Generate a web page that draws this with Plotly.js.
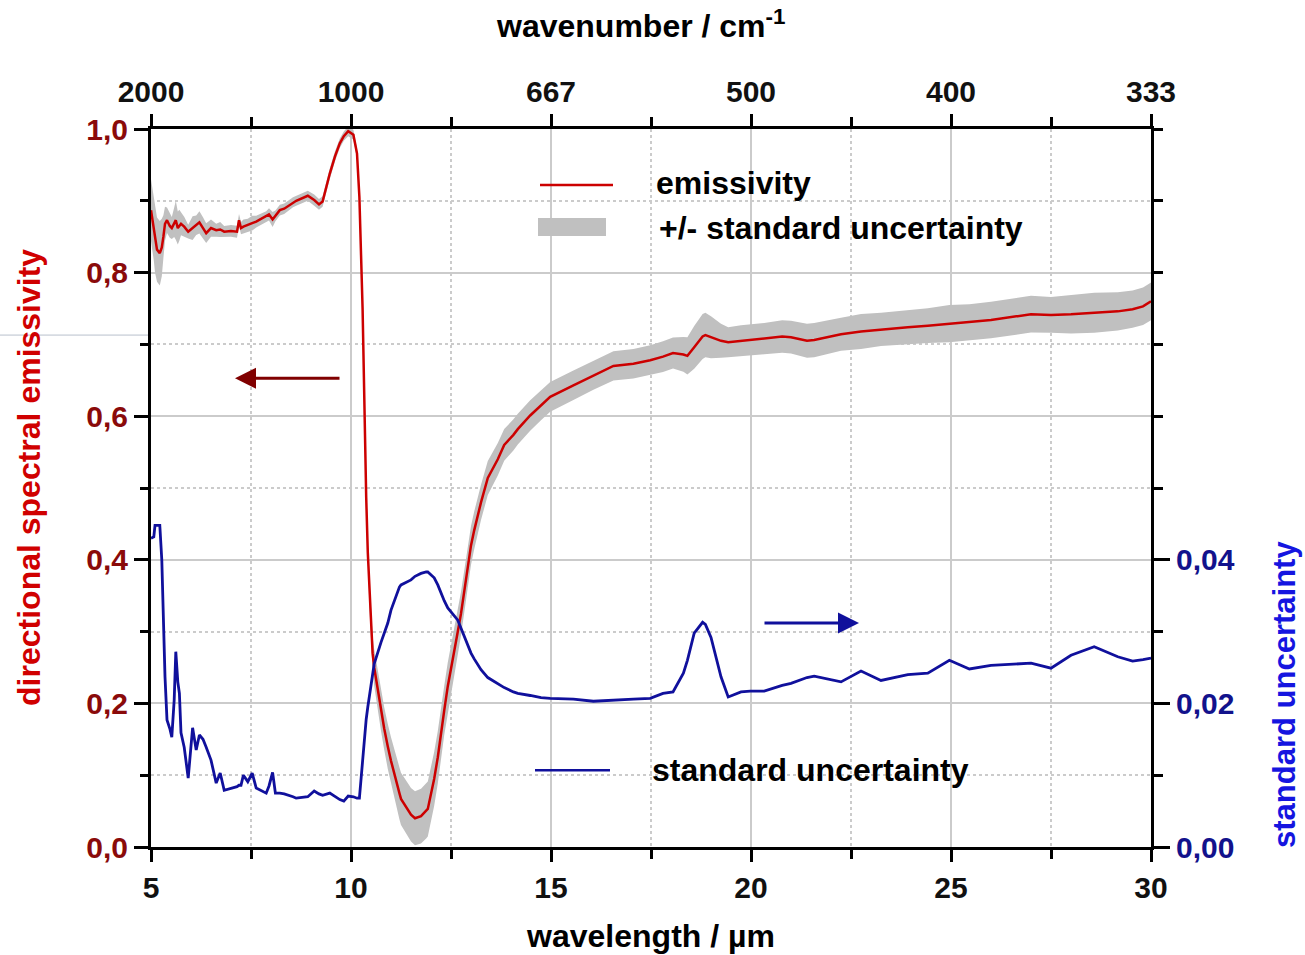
<!DOCTYPE html>
<html><head><meta charset="utf-8">
<script src="https://cdn.plot.ly/plotly-3.0.1.min.js"></script>
<style>html,body{margin:0;padding:0;background:#fff}#chart{width:1305px;height:955px}</style>
</head><body><div id="chart"></div>
<script>
const wavelength = [5.00,5.07,5.10,5.15,5.22,5.27,5.31,5.35,5.40,5.47,5.52,5.58,5.62,5.67,5.71,5.75,5.83,5.93,6.04,6.13,6.21,6.30,6.38,6.50,6.63,6.73,6.83,7.00,7.15,7.20,7.25,7.31,7.42,7.53,7.63,7.88,7.95,8.04,8.11,8.22,8.33,8.55,8.63,8.92,9.08,9.20,9.29,9.47,9.60,9.72,9.82,9.93,10.06,10.15,10.21,10.29,10.33,10.38,10.42,10.46,10.54,10.58,10.75,10.83,10.92,11.00,11.21,11.25,11.50,11.60,11.75,11.88,11.92,12.08,12.17,12.33,12.42,12.67,12.75,13.00,13.08,13.25,13.42,13.67,13.83,14.06,14.17,14.48,14.75,14.98,15.56,16.06,16.56,17.06,17.48,17.80,18.05,18.31,18.41,18.58,18.79,18.86,19.00,19.25,19.43,19.75,19.98,20.33,20.78,21.00,21.40,21.58,22.25,22.75,23.25,23.92,24.42,24.96,25.46,26.00,27.00,27.50,28.00,28.58,29.17,29.54,29.80,30.00];
const emissivity = [0.887,0.860,0.845,0.832,0.827,0.835,0.850,0.868,0.873,0.865,0.862,0.870,0.873,0.862,0.866,0.868,0.864,0.857,0.862,0.866,0.870,0.862,0.855,0.862,0.859,0.860,0.857,0.858,0.857,0.873,0.862,0.864,0.866,0.869,0.871,0.878,0.881,0.874,0.879,0.887,0.889,0.898,0.900,0.907,0.901,0.895,0.899,0.938,0.962,0.980,0.990,0.997,0.992,0.966,0.905,0.749,0.618,0.487,0.410,0.355,0.270,0.250,0.190,0.165,0.140,0.120,0.075,0.067,0.045,0.040,0.043,0.050,0.053,0.095,0.125,0.190,0.224,0.300,0.325,0.420,0.441,0.480,0.514,0.540,0.560,0.574,0.582,0.601,0.615,0.627,0.643,0.657,0.670,0.673,0.678,0.683,0.688,0.686,0.684,0.696,0.711,0.713,0.710,0.705,0.703,0.705,0.706,0.708,0.711,0.710,0.705,0.706,0.714,0.718,0.721,0.724,0.726,0.729,0.731,0.734,0.742,0.741,0.742,0.744,0.746,0.749,0.753,0.760];
const stdUncertainty = [0.0430,0.0432,0.0448,0.0448,0.0448,0.0400,0.0298,0.0237,0.0177,0.0165,0.0153,0.0205,0.0272,0.0230,0.0214,0.0159,0.0139,0.0096,0.0166,0.0135,0.0156,0.0150,0.0139,0.0121,0.0089,0.0103,0.0079,0.0082,0.0084,0.0086,0.0086,0.0100,0.0091,0.0103,0.0082,0.0075,0.0085,0.0104,0.0075,0.0075,0.0074,0.0070,0.0068,0.0070,0.0078,0.0074,0.0072,0.0075,0.0070,0.0066,0.0064,0.0071,0.0070,0.0068,0.0068,0.0121,0.0150,0.0178,0.0195,0.0210,0.0240,0.0255,0.0285,0.0297,0.0312,0.0330,0.0362,0.0365,0.0372,0.0377,0.0381,0.0383,0.0383,0.0375,0.0365,0.0343,0.0333,0.0316,0.0305,0.0270,0.0262,0.0247,0.0236,0.0227,0.0222,0.0216,0.0214,0.0211,0.0208,0.0207,0.0206,0.0203,0.0204,0.0206,0.0207,0.0214,0.0216,0.0242,0.0260,0.0298,0.0313,0.0310,0.0292,0.0237,0.0209,0.0216,0.0217,0.0217,0.0225,0.0228,0.0236,0.0238,0.0230,0.0245,0.0232,0.0240,0.0242,0.0260,0.0248,0.0253,0.0256,0.0249,0.0267,0.0279,0.0265,0.0259,0.0261,0.0263];
const wavelengthTicks = [5,10,15,20,25,30];
const wavenumberLabels = ['2000','1000','667','500','400','333'];
const emissivityTicks = [0,0.2,0.4,0.6,0.8,1.0];
const uncertaintyTicks = [0,0.02,0.04];
const uncertaintyLabels = ['0,00','0,02','0,04'];

const FONT = 'Liberation Sans, Arial, Helvetica, sans-serif';
const upper = wavelength.map((w,i)=>emissivity[i]+stdUncertainty[i]);
const lower = wavelength.map((w,i)=>emissivity[i]-stdUncertainty[i]);

const traces = [
  {x: wavelength.concat(wavelength.slice().reverse()), y: upper.concat(lower.slice().reverse()),
   type:'scatter', mode:'lines', fill:'toself', fillcolor:'#c0c0c0', line:{width:0, color:'#c0c0c0'},
   name:'+/- standard uncertainty', showlegend:false, hoverinfo:'skip', xaxis:'x', yaxis:'y'},
  {x: wavelength, y: emissivity, type:'scatter', mode:'lines', line:{color:'#cc0000', width:2.5},
   name:'emissivity', showlegend:false, xaxis:'x', yaxis:'y'},
  {x: wavelength, y: stdUncertainty, type:'scatter', mode:'lines', line:{color:'#10109c', width:2.8},
   name:'standard uncertainty', showlegend:false, xaxis:'x2', yaxis:'y2'}
];

const tickCommon = {ticks:'outside', tickcolor:'#000', tickwidth:3, showline:true, linecolor:'#000', linewidth:3, zeroline:false, fixedrange:true};
const layout = {
  width:1305, height:955,
  margin:{l:151, r:154, t:129, b:108, pad:0},
  paper_bgcolor:'#fff', plot_bgcolor:'#fff',
  separators:',.',
  showlegend:false,
  font:{family:FONT, color:'#000'},
  xaxis: Object.assign({}, tickCommon, {
    range:[5,30], tickvals:wavelengthTicks, ticklen:12,
    tickfont:{family:FONT, size:30, weight:700, color:'#111'},
    showgrid:true, gridcolor:'#cbcbcb', gridwidth:2,
    minor:{dtick:2.5, tick0:5, ticks:'outside', ticklen:9, tickwidth:3, tickcolor:'#000', showgrid:true, gridcolor:'#cbcbcb', gridwidth:2, griddash:'dot'},
    title:{text:'wavelength / µm', font:{family:FONT, size:32, weight:700, color:'#000'}, standoff:22}
  }),
  xaxis2: Object.assign({}, tickCommon, {
    overlaying:'x', side:'top', anchor:'y', range:[5,30], tickvals:wavelengthTicks, ticktext:wavenumberLabels, ticklen:12,
    tickfont:{family:FONT, size:30, weight:700, color:'#111'},
    showgrid:false,
    minor:{dtick:2.5, tick0:5, ticks:'outside', ticklen:9, tickwidth:3, tickcolor:'#000', showgrid:false}
  }),
  yaxis: Object.assign({}, tickCommon, {
    range:[0,1], tickvals:emissivityTicks, tickformat:'.1f', ticklen:14,
    tickfont:{family:FONT, size:30, weight:700, color:'#8a0a0a'},
    showgrid:true, gridcolor:'#cbcbcb', gridwidth:2,
    minor:{dtick:0.1, tick0:0, ticks:'outside', ticklen:8, tickwidth:3, tickcolor:'#000', showgrid:true, gridcolor:'#cbcbcb', gridwidth:2, griddash:'dot'}
  }),
  yaxis2: Object.assign({}, tickCommon, {
    overlaying:'y', side:'right', anchor:'x', range:[0,0.1], tickvals:uncertaintyTicks, ticktext:uncertaintyLabels, ticklen:16,
    tickfont:{family:FONT, size:30, weight:700, color:'#12128c'},
    showgrid:false,
    minor:{dtick:0.01, tick0:0, ticks:'outside', ticklen:9, tickwidth:3, tickcolor:'#000', showgrid:false}
  }),
  shapes:[
    {type:'rect', xref:'paper', yref:'paper', x0:0.334, x1:0.889, y0:0.823, y1:0.961, fillcolor:'#fff', line:{width:0}, layer:'between'},
    {type:'rect', xref:'paper', yref:'paper', x0:0.377, x1:0.824, y0:0.077, y1:0.141, fillcolor:'#fff', line:{width:0}, layer:'between'},
    {type:'line', xref:'paper', yref:'paper', x0:0.389, x1:0.462, y0:0.922, y1:0.922, line:{color:'#cc0000', width:2.5}},
    {type:'rect', xref:'paper', yref:'paper', x0:0.387, x1:0.455, y0:0.851, y1:0.876, fillcolor:'#c0c0c0', line:{width:0}},
    {type:'line', xref:'paper', yref:'paper', x0:0.384, x1:0.459, y0:0.107, y1:0.107, line:{color:'#10109c', width:2.5}},
    {type:'line', xref:'paper', yref:'paper', x0:-0.151, x1:-0.003, y0:0.713, y1:0.713, line:{color:'#b8c0cc', width:1}}
  ],
  annotations:[
    {xref:'paper', yref:'paper', x:0.489, y:1.146, xanchor:'center', yanchor:'middle', showarrow:false, text:'wavenumber / cm<sup>-1</sup>', font:{family:FONT, size:32, weight:700, color:'#000'}},
    {xref:'paper', yref:'paper', x:-0.122, y:0.514, xanchor:'center', yanchor:'middle', textangle:-90, showarrow:false, text:'directional spectral emissivity', font:{family:FONT, size:32, weight:700, color:'#d00000'}},
    {xref:'paper', yref:'paper', x:1.134, y:0.2117, xanchor:'center', yanchor:'middle', textangle:-90, showarrow:false, text:'standard uncertainty', font:{family:FONT, size:31, weight:700, color:'#1515e0'}},
    {xref:'paper', yref:'paper', x:0.503, y:0.925, xanchor:'left', yanchor:'middle', showarrow:false, text:'emissivity', font:{family:FONT, size:32, weight:700, color:'#000'}},
    {xref:'paper', yref:'paper', x:0.506, y:0.862, xanchor:'left', yanchor:'middle', showarrow:false, text:'+/- standard uncertainty', font:{family:FONT, size:32, weight:700, color:'#000'}},
    {xref:'paper', yref:'paper', x:0.499, y:0.107, xanchor:'left', yanchor:'middle', showarrow:false, text:'standard uncertainty', font:{family:FONT, size:32, weight:700, color:'#000'}},
    {xref:'x', yref:'y', x:7.1, y:0.653, axref:'x', ayref:'y', ax:9.75, ay:0.653, showarrow:true, arrowhead:2, arrowsize:1.4, arrowwidth:3, arrowcolor:'#800000', text:''},
    {xref:'x', yref:'y', x:22.7, y:0.312, axref:'x', ayref:'y', ax:20.3, ay:0.312, showarrow:true, arrowhead:2, arrowsize:1.4, arrowwidth:3, arrowcolor:'#10109c', text:''}
  ]
};
Plotly.newPlot('chart', traces, layout, {displayModeBar:false, staticPlot:true});
</script>
</body></html>
